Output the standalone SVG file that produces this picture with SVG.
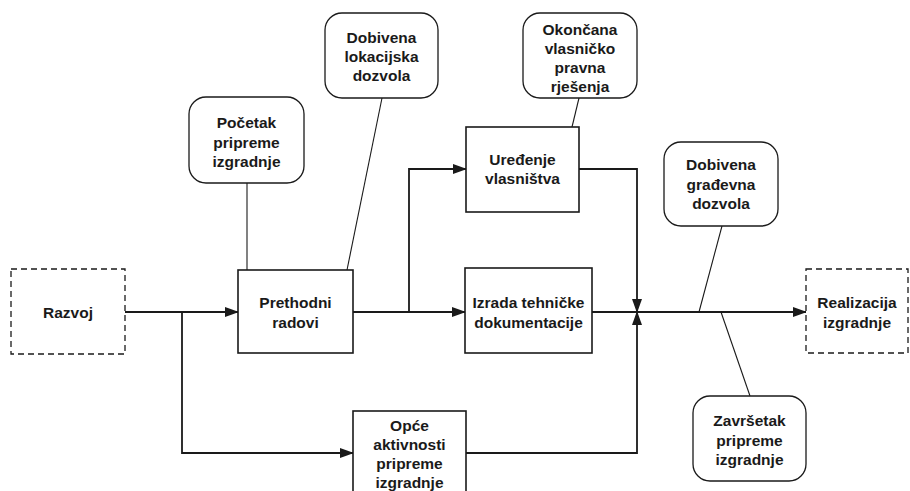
<svg xmlns="http://www.w3.org/2000/svg" width="910" height="491" viewBox="0 0 910 491">
<style>
text{font-family:"Liberation Sans",Arial,sans-serif;font-weight:bold;font-size:15.5px;fill:#1a1a1a;text-anchor:middle}
.box{fill:#fff;stroke:#1a1a1a;stroke-width:1.6}
.dash{fill:#fff;stroke:#1a1a1a;stroke-width:1.3;stroke-dasharray:6 4}
.call{fill:#fff;stroke:#1a1a1a;stroke-width:1.3}
.flow{fill:none;stroke:#1a1a1a;stroke-width:1.8}
.thin{fill:none;stroke:#1a1a1a;stroke-width:1.1}
</style>
<defs>
<marker id="ah" markerWidth="14" markerHeight="10" refX="13" refY="5" orient="auto" markerUnits="userSpaceOnUse">
<path d="M0,0 L14,5 L0,10 Z" fill="#1a1a1a"/>
</marker>
</defs>
<rect width="910" height="491" fill="#fff"/>
<g id="connectors">
<path class="flow" d="M125,312 H238" marker-end="url(#ah)"/>
<path class="flow" d="M182,312 V453 H353" marker-end="url(#ah)"/>
<path class="flow" d="M353,312 H465" marker-end="url(#ah)"/>
<path class="flow" d="M409,312 V169 H466" marker-end="url(#ah)"/>
<path class="flow" d="M579,169 H637 V312" marker-end="url(#ah)"/>
<path class="flow" d="M466,453 H637 V312" marker-end="url(#ah)"/>
<path class="flow" d="M592,312 H806" marker-end="url(#ah)"/>
<path class="thin" d="M247,183 V270"/>
<path class="thin" d="M382,98 L347,270"/>
<path class="thin" d="M579,98 L572,127"/>
<path class="thin" d="M722,226 L699,312"/>
<path class="thin" d="M721,312 L750,396"/>
</g>
<g id="razvoj">
<rect class="dash" x="11" y="269" width="114" height="85"/>
<text x="68" y="318">Razvoj</text>
</g>
<g id="prethodni">
<rect class="box" x="238" y="270" width="115" height="83"/>
<text x="295.5" y="308">Prethodni</text>
<text x="295.5" y="328">radovi</text>
</g>
<g id="uredenje">
<rect class="box" x="466" y="127" width="113" height="85"/>
<text x="522.5" y="165">Uređenje</text>
<text x="522.5" y="184">vlasništva</text>
</g>
<g id="izrada">
<rect class="box" x="465" y="268" width="127" height="85"/>
<text x="528.5" y="308">Izrada tehničke</text>
<text x="528.5" y="328">dokumentacije</text>
</g>
<g id="opce">
<rect class="box" x="353" y="411" width="113" height="90"/>
<text x="409.5" y="431">Opće</text>
<text x="409.5" y="450">aktivnosti</text>
<text x="409.5" y="469">pripreme</text>
<text x="409.5" y="488">izgradnje</text>
</g>
<g id="realizacija">
<rect class="dash" x="806" y="269" width="102" height="84"/>
<text x="857" y="308">Realizacija</text>
<text x="857" y="328">izgradnje</text>
</g>
<g id="pocetak">
<rect class="call" x="189" y="97" width="115" height="86" rx="17"/>
<text x="246.5" y="128">Početak</text>
<text x="246.5" y="148">pripreme</text>
<text x="246.5" y="167">izgradnje</text>
</g>
<g id="lokacijska">
<rect class="call" x="325" y="13" width="113" height="85" rx="17"/>
<text x="381.5" y="43">Dobivena</text>
<text x="381.5" y="62">lokacijska</text>
<text x="381.5" y="81">dozvola</text>
</g>
<g id="okoncana">
<rect class="call" x="523" y="13" width="114" height="85" rx="17"/>
<text x="580" y="35">Okončana</text>
<text x="580" y="54">vlasničko</text>
<text x="580" y="73">pravna</text>
<text x="580" y="92">rješenja</text>
</g>
<g id="gradevna">
<rect class="call" x="664" y="142" width="114" height="84" rx="17"/>
<text x="721" y="170">Dobivena</text>
<text x="721" y="190">građevna</text>
<text x="721" y="209">dozvola</text>
</g>
<g id="zavrsetak">
<rect class="call" x="693" y="396" width="113" height="85" rx="17"/>
<text x="749.5" y="426">Završetak</text>
<text x="749.5" y="446">pripreme</text>
<text x="749.5" y="465">izgradnje</text>
</g>
</svg>
